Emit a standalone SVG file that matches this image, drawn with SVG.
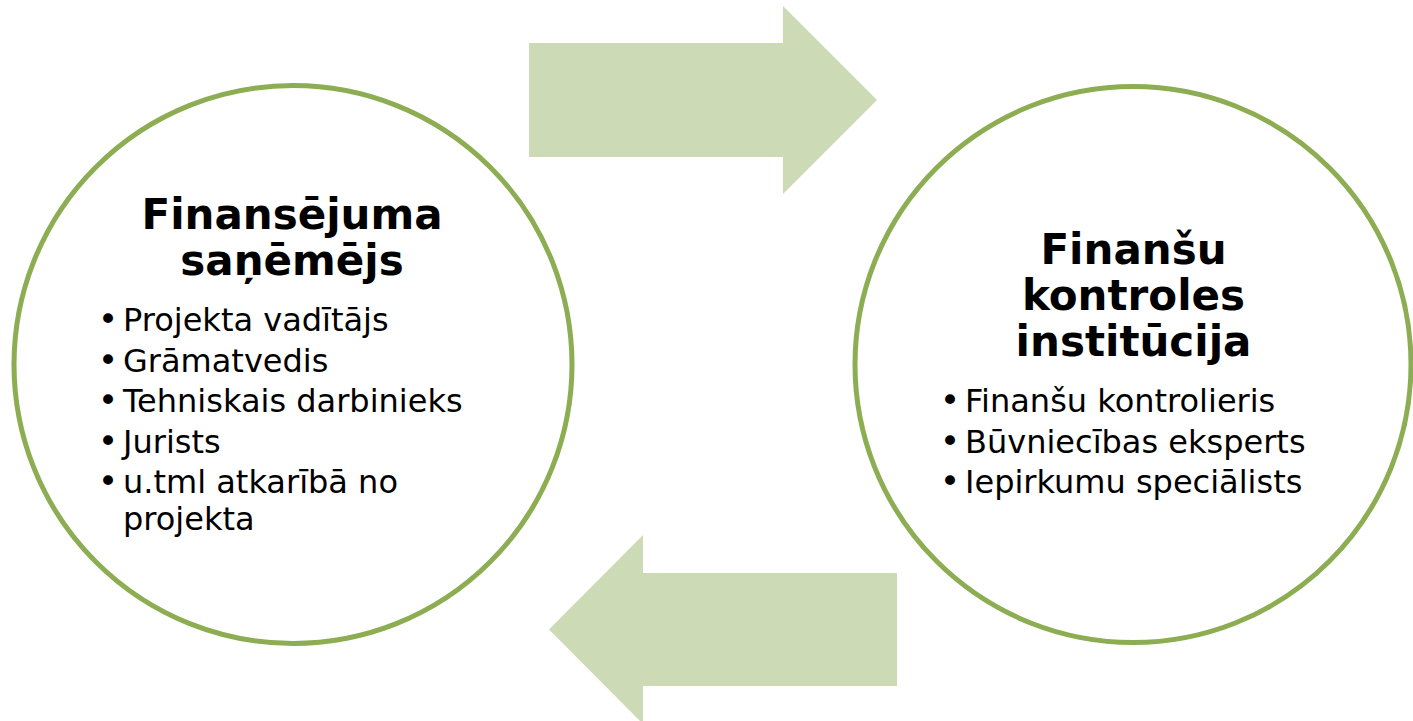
<svg xmlns="http://www.w3.org/2000/svg" width="1413" height="721" viewBox="0 0 1413 721">
  <style>
    .circ { fill: #ffffff; stroke: #8CAD51; stroke-width: 5; }
    .arrow { fill: #CDDAB6; stroke: none; }
    .title { font-family: "DejaVu Sans", Verdana, sans-serif; font-weight: bold; font-size: 42px; fill: #000000; text-anchor: middle; }
    .item { font-family: "DejaVu Sans", Verdana, sans-serif; font-size: 32px; fill: #000000; }
    .bul { font-family: "DejaVu Sans", Verdana, sans-serif; font-size: 34px; fill: #000000; text-anchor: middle; }
  </style>
  <rect width="1413" height="721" fill="#ffffff"/>
  <g id="connectors">
    <polygon class="arrow" points="529,43 783,43 783,6 877,100 783,194 783,157 529,157"/>
    <polygon class="arrow" points="897,573 643,573 643,535 549,629.5 643,724 643,686 897,686"/>
  </g>
  <g id="node-left">
    <circle class="circ" cx="293" cy="364.5" r="279"/>
    <text class="title" x="292" y="229">Finansējuma</text>
    <text class="title" x="292" y="274.5">saņēmējs</text>
    <text class="bul" x="108" y="331">•</text>
    <text class="item" x="123" y="331">Projekta vadītājs</text>
    <text class="bul" x="108" y="371.5">•</text>
    <text class="item" x="123" y="371.5">Grāmatvedis</text>
    <text class="bul" x="108" y="412">•</text>
    <text class="item" x="123" y="412">Tehniskais darbinieks</text>
    <text class="bul" x="108" y="452.5">•</text>
    <text class="item" x="123" y="452.5">Jurists</text>
    <text class="bul" x="108" y="493">•</text>
    <text class="item" x="123" y="493">u.tml atkarībā no</text>
    <text class="item" x="123" y="529.5">projekta</text>
  </g>
  <g id="node-right">
    <circle class="circ" cx="1133" cy="364.5" r="278"/>
    <text class="title" x="1133.5" y="264">Finanšu</text>
    <text class="title" x="1133.5" y="310">kontroles</text>
    <text class="title" x="1133.5" y="356">institūcija</text>
    <text class="bul" x="950" y="412">•</text>
    <text class="item" x="965" y="412">Finanšu kontrolieris</text>
    <text class="bul" x="950" y="452.5">•</text>
    <text class="item" x="965" y="452.5">Būvniecības eksperts</text>
    <text class="bul" x="950" y="493">•</text>
    <text class="item" x="965" y="493">Iepirkumu speciālists</text>
  </g>
</svg>
